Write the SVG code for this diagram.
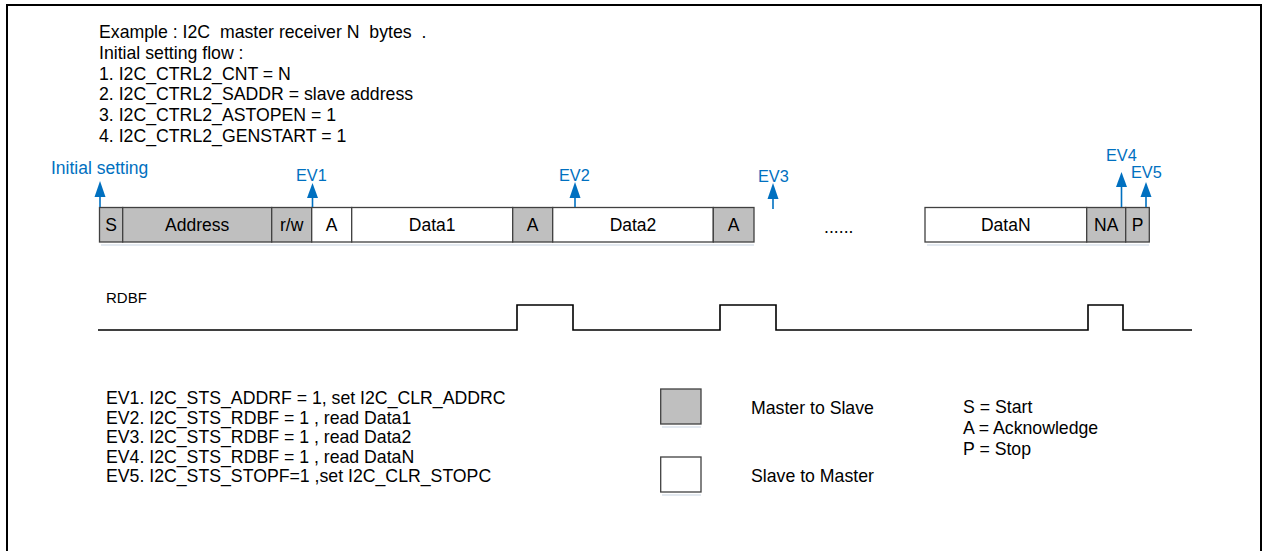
<svg xmlns="http://www.w3.org/2000/svg" width="1267" height="551" viewBox="0 0 1267 551">
<style>
text{font-family:"Liberation Sans",Arial,sans-serif;fill:#000;}
.t{font-size:17.7px;}
.c{font-size:17.5px;text-anchor:middle;}
.b{font-size:16.3px;fill:#0070C0;}
.g{fill:#BFBFBF;stroke:#404040;stroke-width:1.3;}
.w{fill:#FFFFFF;stroke:#404040;stroke-width:1.3;}
.sh{fill:#E3E9F0;}
.ar{stroke:#0070C0;stroke-width:1.6;fill:none;}
.ah{fill:#0070C0;}
</style>
<rect x="0" y="0" width="1267" height="551" fill="#fff"/>
<rect x="7" y="5" width="1254" height="560" fill="none" stroke="#000" stroke-width="2"/>

<g id="header">
<text class="t" x="99" y="38" xml:space="preserve">Example : I2C  master receiver N  bytes  .</text>
<text class="t" x="99" y="58.8">Initial setting flow :</text>
<text class="t" x="99" y="79.6">1. I2C_CTRL2_CNT = N</text>
<text class="t" x="99" y="100.4">2. I2C_CTRL2_SADDR = slave address</text>
<text class="t" x="99" y="121.2">3. I2C_CTRL2_ASTOPEN = 1</text>
<text class="t" x="99" y="142">4. I2C_CTRL2_GENSTART = 1</text>
</g>

<g id="frame-shadow">
<rect class="sh" x="101" y="244" width="653" height="2"/>
<rect class="sh" x="927" y="244" width="222" height="2"/>
<rect class="sh" x="662" y="426" width="39" height="2"/>
<rect class="sh" x="662" y="494" width="39" height="2"/>
</g>

<g id="f-S"><rect class="g" x="99.5" y="207.5" width="23.2" height="34.5"/><text class="c" x="111.1" y="231">S</text></g>
<g id="f-Address"><rect class="g" x="122.7" y="207.5" width="149" height="34.5"/><text class="c" x="197.2" y="231">Address</text></g>
<g id="f-rw"><rect class="g" x="271.7" y="207.5" width="40" height="34.5"/><text class="c" x="291.7" y="231">r/w</text></g>
<g id="f-A1"><rect class="w" x="311.7" y="207.5" width="40" height="34.5"/><text class="c" x="331.7" y="231">A</text></g>
<g id="f-Data1"><rect class="w" x="351.7" y="207.5" width="161" height="34.5"/><text class="c" x="432.2" y="231">Data1</text></g>
<g id="f-A2"><rect class="g" x="512.7" y="207.5" width="40" height="34.5"/><text class="c" x="532.7" y="231">A</text></g>
<g id="f-Data2"><rect class="w" x="552.7" y="207.5" width="160.6" height="34.5"/><text class="c" x="633" y="231">Data2</text></g>
<g id="f-A3"><rect class="g" x="713.3" y="207.5" width="40.7" height="34.5"/><text class="c" x="733.7" y="231">A</text></g>
<g id="dots"><text class="t" x="824" y="233">......</text></g>
<g id="f-DataN"><rect class="w" x="925" y="207.5" width="161.7" height="34.5"/><text class="c" x="1005.8" y="231">DataN</text></g>
<g id="f-NA"><rect class="g" x="1086.7" y="207.5" width="39" height="34.5"/><text class="c" x="1106.2" y="231">NA</text></g>
<g id="f-P"><rect class="g" x="1125.7" y="207.5" width="23.6" height="34.5"/><text class="c" x="1137.5" y="231">P</text></g>

<g id="labels">
<text class="b" x="51" y="174" style="font-size:17.5px">Initial setting</text>
<text class="b" x="296" y="181">EV1</text>
<text class="b" x="559" y="181">EV2</text>
<text class="b" x="758" y="182">EV3</text>
<text class="b" x="1106" y="161">EV4</text>
<text class="b" x="1131" y="178">EV5</text>
</g>

<g id="connectors">
<line class="ar" x1="100" y1="207" x2="100" y2="194"/><polygon class="ah" points="100,181 105.5,197 94.5,197"/>
<line class="ar" x1="312.5" y1="207" x2="312.5" y2="196"/><polygon class="ah" points="312.5,183 318,198 307,198"/>
<line class="ar" x1="575" y1="207" x2="575" y2="196"/><polygon class="ah" points="575,182 580.5,198 569.5,198"/>
<line class="ar" x1="773" y1="209" x2="773" y2="197"/><polygon class="ah" points="773,183 778.5,199 767.5,199"/>
<line class="ar" x1="1121.5" y1="207" x2="1121.5" y2="185"/><polygon class="ah" points="1121.5,172 1127,187 1116,187"/>
<line class="ar" x1="1146" y1="207" x2="1146" y2="195"/><polygon class="ah" points="1146,182 1151.5,197 1140.5,197"/>
</g>

<g id="rdbf">
<text x="106" y="303" style="font-size:15px">RDBF</text>
<path d="M98 330 H517 V305 H573 V330 H720 V305 H776 V330 H1088 V305 H1123 V330 H1192" fill="none" stroke="#000" stroke-width="1.6"/>
</g>

<g id="events">
<text class="t" x="106" y="404">EV1. I2C_STS_ADDRF = 1, set I2C_CLR_ADDRC</text>
<text class="t" x="106" y="423.5">EV2. I2C_STS_RDBF = 1 , read Data1</text>
<text class="t" x="106" y="443">EV3. I2C_STS_RDBF = 1 , read Data2</text>
<text class="t" x="106" y="462.5">EV4. I2C_STS_RDBF = 1 , read DataN</text>
<text class="t" x="106" y="482">EV5. I2C_STS_STOPF=1 ,set I2C_CLR_STOPC</text>
</g>

<g id="legend-m2s"><rect class="g" x="660.7" y="389" width="40.3" height="35"/><text class="t" x="751" y="414">Master to Slave</text></g>
<g id="legend-s2m"><rect class="w" x="660.7" y="457" width="40.3" height="35"/><text class="t" x="751" y="482">Slave to Master</text></g>
<g id="legend-abbr">
<text class="t" x="963" y="413">S = Start</text>
<text class="t" x="963" y="434">A = Acknowledge</text>
<text class="t" x="963" y="455">P = Stop</text>
</g>
</svg>
